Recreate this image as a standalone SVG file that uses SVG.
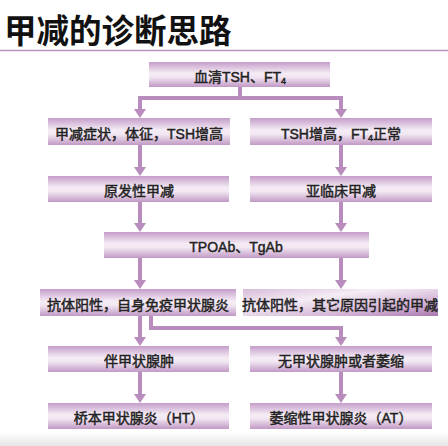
<svg xmlns="http://www.w3.org/2000/svg" width="448" height="446" viewBox="0 0 448 446">
<defs>
<linearGradient id="bx" x1="0" y1="0" x2="0" y2="1">
<stop offset="0" stop-color="#c59dca"/>
<stop offset="0.45" stop-color="#f5ecf5"/>
<stop offset="0.6" stop-color="#f2e7f2"/>
<stop offset="1" stop-color="#c199c5"/>
</linearGradient>
<linearGradient id="bx2" x1="0" y1="0" x2="1" y2="1">
<stop offset="0" stop-color="#d7bcd9"/>
<stop offset="0.35" stop-color="#f5ecf5"/>
<stop offset="0.75" stop-color="#cfaed2"/>
<stop offset="1" stop-color="#a876ae"/>
</linearGradient>
<linearGradient id="bot" x1="0" y1="0" x2="0" y2="1">
<stop offset="0" stop-color="#ffffff"/>
<stop offset="1" stop-color="#e6e6e6"/>
</linearGradient>
<marker id="ah" viewBox="0 0 9 12" refX="0" refY="6" markerWidth="2.25" markerHeight="3" orient="auto" markerUnits="strokeWidth">
<path d="M0,0 L9,6 L0,12 Z" fill="#b88cbc"/>
</marker>
</defs>
<style>
.box{fill:url(#bx)}
.t{font-family:"Liberation Sans","Noto Sans CJK SC",sans-serif;font-size:14px;font-weight:normal;fill:#222;stroke:#222;stroke-width:0.45;text-anchor:middle}
.c{fill:none;stroke:#b88cbc;stroke-width:4}
.ca{fill:none;stroke:#b88cbc;stroke-width:4;marker-end:url(#ah)}
</style>
<rect width="448" height="446" fill="#fff"/>
<rect x="0" y="432" width="448" height="14" fill="url(#bot)"/>
<text x="4" y="43" font-family="Noto Sans CJK SC, Liberation Sans, sans-serif" font-size="32.5" font-weight="bold" fill="#111">甲减的诊断思路</text>
<line x1="0" y1="50.5" x2="448" y2="50.5" stroke="#b596b8" stroke-width="1.5"/>

<g id="connectors">
<path class="c" d="M240,87 V98 M138,98 H343"/>
<path class="ca" d="M140,98 V109"/>
<path class="ca" d="M341,98 V109"/>
<path class="ca" d="M140,145 V167"/>
<path class="ca" d="M341,145 V167"/>
<path class="ca" d="M140,202 V223"/>
<path class="ca" d="M341,202 V223"/>
<path class="ca" d="M140,258 V280"/>
<path class="ca" d="M341,258 V280"/>
<path class="ca" d="M140,316 V337"/>
<path class="ca" d="M151,316 V328 H341 V337"/>
<path class="ca" d="M140,372 V394"/>
<path class="ca" d="M341,372 V394"/>
</g>

<g id="n1"><rect class="box" x="149" y="62" width="181" height="25"/><text class="t" x="240" y="81.5">血清TSH、FT<tspan font-size="9" dy="2">4</tspan></text></g>
<g id="n2"><rect class="box" x="48" y="118" width="182" height="27"/><text class="t" x="139" y="138.5">甲减症状，体征，TSH增高</text></g>
<g id="n3"><rect class="box" x="250" y="118" width="182" height="27"/><text class="t" x="341" y="138.5">TSH增高，FT<tspan font-size="9" dy="2">4</tspan><tspan dy="-2">正常</tspan></text></g>
<g id="n4"><rect class="box" x="48" y="176" width="181" height="26"/><text class="t" x="139" y="196">原发性甲减</text></g>
<g id="n5"><rect class="box" x="250" y="176" width="182" height="26"/><text class="t" x="341" y="196">亚临床甲减</text></g>
<g id="n6"><rect class="box" x="104" y="232" width="265" height="26"/><text class="t" x="236" y="252">TPOAb、TgAb</text></g>
<g id="n7"><rect class="box" x="40" y="289" width="196" height="27"/><text class="t" x="138" y="309.5">抗体阳性，自身免疫甲状腺炎</text></g>
<g id="n8"><rect x="243" y="289" width="195" height="27" fill="url(#bx2)"/><text class="t" x="340" y="309.5">抗体阳性，其它原因引起的甲减</text></g>
<g id="n9"><rect class="box" x="48" y="346" width="181" height="26"/><text class="t" x="139" y="366">伴甲状腺肿</text></g>
<g id="n10"><rect class="box" x="250" y="346" width="182" height="26"/><text class="t" x="341" y="366">无甲状腺肿或者萎缩</text></g>
<g id="n11"><rect class="box" x="48" y="403" width="181" height="26"/><text class="t" x="139" y="423">桥本甲状腺炎（HT）</text></g>
<g id="n12"><rect class="box" x="250" y="403" width="182" height="26"/><text class="t" x="341" y="423">萎缩性甲状腺炎（AT）</text></g>
</svg>
